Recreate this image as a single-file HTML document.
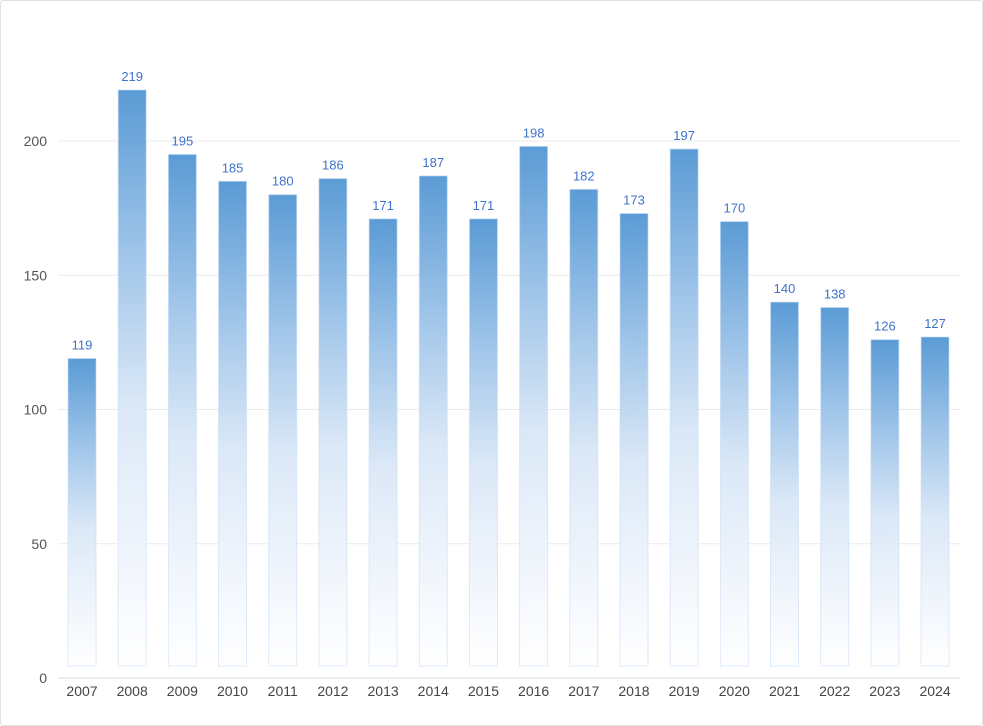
<!DOCTYPE html>
<html><head><meta charset="utf-8"><style>
html,body{margin:0;padding:0;background:#fff;}
svg{display:block;font-family:"Liberation Sans",sans-serif;}
</style></head><body>
<svg id="chart" width="983" height="726">
<defs>
<linearGradient id="g" x1="0" y1="0" x2="0" y2="1">
<stop offset="0" stop-color="#5b9bd5"/>
<stop offset="0.3" stop-color="#a3c7ea"/>
<stop offset="0.55" stop-color="#dbe8f7"/>
<stop offset="0.8" stop-color="#f0f5fc"/>
<stop offset="1" stop-color="#ffffff"/>
</linearGradient>
</defs>
<rect x="0.5" y="0.5" width="982" height="725" rx="3" fill="#fff" stroke="#e2e2e2"/>
<g id="grid"></g><g id="bars"></g><g id="labels"></g>
</svg>
<script>
const categories=["2007","2008","2009","2010","2011","2012","2013","2014","2015","2016","2017","2018","2019","2020","2021","2022","2023","2024"];
const values=[119,219,195,185,180,186,171,187,171,198,182,173,197,170,140,138,126,127];
const yTicks=[0,50,100,150,200];
const NS="http://www.w3.org/2000/svg";
const y0=678,yPer=(678-141)/200;
function y(v){return y0-v*yPer;}
function x(i){return 82+i*50.18;}
function mk(t,a,p){const e=document.createElementNS(NS,t);for(const k in a)e.setAttribute(k,a[k]);p.appendChild(e);return e;}
const grid=document.getElementById('grid'),bars=document.getElementById('bars'),labels=document.getElementById('labels');
yTicks.forEach(v=>{
 const l=mk('line',{x1:58,x2:960,y1:y(v),y2:y(v),stroke:v===0?'#dcdcdc':'#ebebeb','stroke-width':1},grid);
 
 
 const t=mk('text',{x:47,y:y(v)+5,'text-anchor':'end','font-size':14,fill:'#555'},grid);
 t.textContent=v;
 
 
});
categories.forEach((c,i)=>{
 const r=mk('rect',{x:x(i)-14,y:y(values[i]),width:28,height:y0-y(values[i])-12,fill:'url(#g)',stroke:'rgba(200,222,245,0.6)','stroke-width':1},bars);
 
 
 const t=mk('text',{x:x(i),y:y(values[i])-9,'text-anchor':'middle','font-size':13,fill:'#3f73c9'},labels);
 t.textContent=values[i];
 
 
 const xt=mk('text',{x:x(i),y:696,'text-anchor':'middle','font-size':14,fill:'#444'},labels);
 xt.textContent=c;
 
 
});
</script>
</body></html>
